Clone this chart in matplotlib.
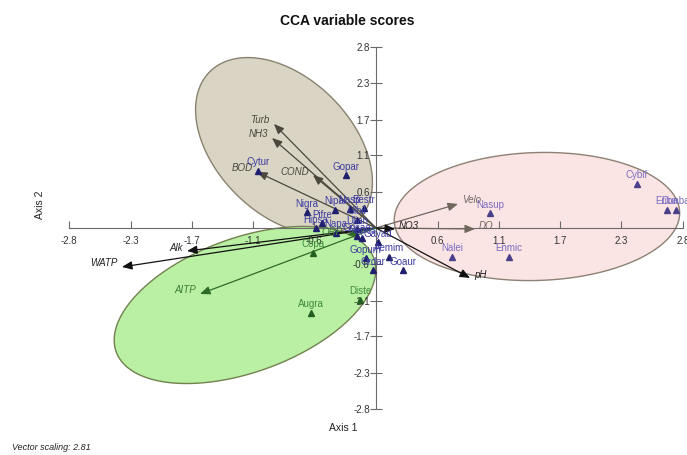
import numpy as np
import matplotlib.pyplot as plt

plt.rcParams['font.family'] = ['Liberation Sans', 'DejaVu Sans']

# environmental variables (biplot scores, after vector scaling)
var_names = ['Turb', 'NH3', 'BOD', 'COND', 'Velo', 'DO', 'NO3', 'pH',
             'Alk', 'WATP', 'AITP', 'ORP']
var_x = [-0.944, -0.962, -1.10, -0.583, 0.759, 0.916, 0.176, 0.87,
         -1.748, -2.35, -1.628, -0.268]
var_y = [1.633, 1.413, 0.88, 0.832, 0.377, -0.016, -0.016, -0.785,
         -0.361, -0.612, -1.036, -0.11]
var_kind = ['turbid', 'turbid', 'turbid', 'turbid', 'flow', 'flow', 'ion', 'ion',
            'ion', 'ion', 'phos', 'phos']

# species scores
sp_names = ['Gopar', 'Cytur', 'Nigra', 'Nipal', 'Nasp', 'Bestr', 'Ulbil', 'Ulian',
            'Pifre', 'Hipsa', 'Napa', 'Gocae', 'Napus', 'Gayad', 'Aemim', 'Ordar',
            'Goaur', 'Gopum',
            'Copa', 'Augra', 'Diste',
            'Nasup', 'Nalei', 'Enmic', 'Cybif', 'Eriba', 'Dunba']
sp_x = [-0.278, -1.092, -0.638, -0.379, -0.24, -0.111, -0.176, -0.176,
        -0.50, -0.555, -0.37, -0.176, -0.13, 0.019, 0.12, -0.028,
        0.25, -0.093,
        -0.583, -0.601, -0.148,
        1.055, 0.703, 1.23, 2.414, 2.692, 2.775]
sp_y = [0.832, 0.895, 0.251, 0.283, 0.30, 0.314, 0.126, -0.016,
        0.078, 0.0, -0.078, -0.13, -0.16, -0.22, -0.455, -0.66,
        -0.66, -0.471,
        -0.392, -1.334, -1.13,
        0.235, -0.455, -0.455, 0.691, 0.283, 0.283]
sp_group = ['A'] * 18 + ['B'] * 3 + ['C'] * 6

# group ellipses: centre and two conjugate semi-axis vectors
ell_center = {'A': (-0.851, 1.287), 'B': (-1.212, -1.209), 'C': (1.489, 0.18)}
ell_u = {'A': (0.687, -1.165), 'B': (1.191, 0.736), 'C': (1.32, 0.04)}
ell_v = {'A': (0.444, 0.755), 'B': (0.212, -0.989), 'C': (0.02, 1.005)}

ticks = [-2.84, -2.27, -1.70, -1.14, -0.57, 0.57, 1.14, 1.70, 2.27, 2.84]

ell_style = {'A': ('#d9d4c4', '#8a8270'),
             'B': ('#b9f0a3', '#72814f'),
             'C': ('#fbe5e4', '#8c8174')}
var_color = {'turbid': '#4b483e', 'flow': '#6f665c', 'ion': '#111111', 'phos': '#2f6b2a'}
var_text = {'turbid': '#4b483e', 'flow': '#6f665c', 'ion': '#222222', 'phos': '#3c7d36'}
sp_marker = {'A': '#1f1f6e', 'B': '#245f22', 'C': '#4a3f8a'}
sp_text = {'A': '#3c3ca0', 'B': '#3f8a3f', 'C': '#7a6dc2'}

fig = plt.figure(figsize=(6.87, 4.55), dpi=100)
ax = fig.add_axes([0, 0, 1, 1])
ax.set_xlim(-3.478, 2.877)
ax.set_ylim(-3.564, 3.579)
ax.patch.set_visible(False)

t = np.linspace(0, 2 * np.pi, 300)
for g in ['A', 'B', 'C']:
    cx, cy = ell_center[g]
    ux, uy = ell_u[g]
    vx, vy = ell_v[g]
    ex = cx + np.cos(t) * ux + np.sin(t) * vx
    ey = cy + np.cos(t) * uy + np.sin(t) * vy
    face, edge = ell_style[g]
    ax.fill(ex, ey, facecolor=face, edgecolor=edge, lw=1.0, zorder=1)

# axes crossing at the origin
for side in ['top', 'right']:
    ax.spines[side].set_visible(False)
for side in ['left', 'bottom']:
    ax.spines[side].set_position(('data', 0))
    ax.spines[side].set_bounds(-2.84, 2.84)
    ax.spines[side].set_color('#6a6a6a')
    ax.spines[side].set_linewidth(0.8)
ax.set_xticks(ticks)
ax.set_xticklabels([f'{v:.1f}' for v in ticks])
ax.set_yticks(ticks)
ax.set_yticklabels([f'{v:.1f}' for v in ticks])
ax.tick_params(axis='x', direction='in', length=5, width=0.8, color='#6a6a6a',
               labelsize=7, labelcolor='#333333', pad=6)
ax.tick_params(axis='y', direction='inout', length=8, width=0.8, color='#6a6a6a',
               labelsize=7, labelcolor='#333333', pad=0.5)

for name, x, y, k in zip(var_names, var_x, var_y, var_kind):
    ax.annotate('', xy=(x, y), xytext=(0, 0),
                arrowprops=dict(arrowstyle='-|>,head_length=0.6,head_width=0.25',
                                color=var_color[k], lw=0.9, shrinkA=0, shrinkB=0,
                                mutation_scale=10), zorder=3)
    dx = -3 if x < 0 else 3
    ax.annotate(name, (x, y), xytext=(dx, 2.5), textcoords='offset points',
                ha='right' if x < 0 else 'left', va='center', fontsize=7,
                style='italic', color=var_text[k], zorder=5)

for name, x, y, g in zip(sp_names, sp_x, sp_y, sp_group):
    ax.plot(x, y, marker='^', ms=4.5, color=sp_marker[g], ls='none', zorder=4)
    ax.annotate(name, (x, y), xytext=(0, 2.5), textcoords='offset points',
                ha='center', va='bottom', fontsize=7, color=sp_text[g], zorder=5)

fig.text(347 / 687, 1 - 21 / 455, 'CCA variable scores', ha='center', va='center',
         fontsize=10, fontweight='bold', color='#111111')
fig.text(343 / 687, 1 - 428 / 455, 'Axis 1', ha='center', va='center',
         fontsize=7.5, color='#222222')
fig.text(40 / 687, 1 - 205 / 455, 'Axis 2', ha='center', va='center',
         fontsize=7.5, rotation=90, color='#222222')
fig.text(12 / 687, 1 - 447 / 455, 'Vector scaling: 2.81', ha='left', va='center',
         fontsize=6.5, style='italic', color='#222222')

fig.savefig('out.png', dpi=100)
